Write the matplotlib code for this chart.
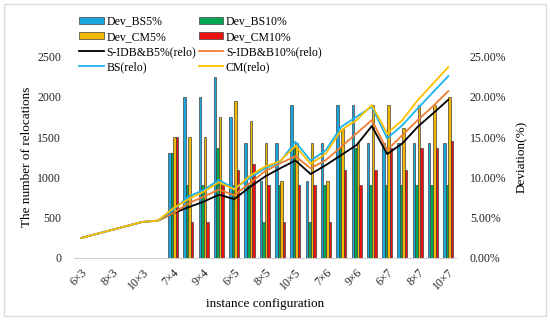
import matplotlib.pyplot as plt
import numpy as np
from matplotlib.patches import Rectangle

plt.rcParams["font.family"] = ["Liberation Serif", "DejaVu Serif"]

configs = ["6×3", "7×3", "8×3", "9×3", "10×3",
           "6×4", "7×4", "8×4", "9×4", "10×4",
           "6×5", "7×5", "8×5", "9×5", "10×5",
           "6×6", "7×6", "8×6", "9×6", "10×6",
           "6×7", "7×7", "8×7", "9×7", "10×7"]

# deviation bars (%), only from 7×4 onwards
bar_configs = configs[6:]
dev_bs5 = [13.0, 20.0, 20.0, 22.5, 17.5, 14.3, 9.5, 14.3, 19.0, 9.5,
           14.3, 19.0, 19.0, 14.3, 14.3, 14.3, 14.3, 14.3, 14.3]
dev_bs10 = [13.0, 9.1, 9.1, 13.6, 9.1, 9.1, 4.5, 9.1, 13.6, 4.5,
            9.1, 13.6, 13.6, 9.1, 9.1, 9.1, 9.1, 9.1, 9.1]
dev_cm5 = [15.0, 15.0, 15.0, 17.5, 19.5, 17.0, 14.3, 9.5, 14.3, 14.3,
           9.5, 16.0, 14.3, 19.0, 19.0, 16.1, 19.0, 19.0, 20.0]
dev_cm10 = [15.0, 4.5, 4.5, 9.1, 10.9, 11.7, 9.1, 4.5, 9.1, 9.1,
            4.5, 10.9, 9.1, 10.9, 13.6, 10.9, 13.6, 13.6, 14.5]

# relocations
sidb5 = [248, 298, 348, 398, 447, 463, 554, 629, 699, 785, 730, 877, 1009,
         1113, 1210, 1042, 1154, 1278, 1402, 1638, 1290, 1423, 1629, 1795, 1965]
sidb10 = [248, 298, 348, 398, 447, 463, 554, 678, 761, 850, 778, 926, 1075,
          1175, 1262, 1113, 1216, 1381, 1547, 1712, 1340, 1526, 1712, 1885, 2072]
bs_relo = [248, 298, 348, 398, 447, 463, 596, 761, 844, 968, 860, 989, 1113,
           1195, 1443, 1207, 1340, 1629, 1753, 1877, 1485, 1650, 1857, 2058, 2258]
cm_relo = [248, 298, 348, 398, 447, 463, 616, 728, 823, 940, 850, 1017, 1133,
           1203, 1390, 1166, 1299, 1588, 1712, 1898, 1547, 1712, 1960, 2165, 2370]

fig = plt.figure(figsize=(5.5, 3.2), dpi=100)
fig.patches.append(Rectangle((0.008, 0.012), 0.984, 0.976, transform=fig.transFigure,
                             fill=False, edgecolor="#dcdcdc", linewidth=1))
ax = fig.add_axes([0.134, 0.194, 0.695, 0.629])
ax2 = ax.twinx()
ax.set_zorder(ax2.get_zorder() + 1)
ax.patch.set_visible(False)

x = np.arange(len(configs))
xb = np.array([configs.index(c) for c in bar_configs])
w = 0.165
edge = dict(edgecolor="#404040", linewidth=0.5)
b1 = ax2.bar(xb - 1.5 * w, dev_bs5, w, color="#1AA7E0", label="Dev_BS5%", **edge)
b2 = ax2.bar(xb - 0.5 * w, dev_bs10, w, color="#00A651", label="Dev_BS10%", **edge)
b3 = ax2.bar(xb + 0.5 * w, dev_cm5, w, color="#F5B800", label="Dev_CM5%", **edge)
b4 = ax2.bar(xb + 1.5 * w, dev_cm10, w, color="#EE1111", label="Dev_CM10%", **edge)

l1, = ax.plot(x, sidb5, color="black", lw=1.3, label="S-IDB&B5%(relo)")
l2, = ax.plot(x, sidb10, color="#ED7D31", lw=1.3, label="S-IDB&B10%(relo)")
l3, = ax.plot(x, bs_relo, color="#19B3F0", lw=1.3, label="BS(relo)")
l4, = ax.plot(x, cm_relo, color="#FFC000", lw=1.3, label="CM(relo)")

ax.set_xlim(-0.5, len(configs) - 0.5)
ax.set_ylim(0, 2500)
ax2.set_ylim(0, 25)
ax.set_yticks(range(0, 2501, 500))
ax2.set_yticks(range(0, 26, 5))
ax2.set_yticklabels([f"{v:.2f}%" for v in range(0, 26, 5)])
ax.set_xticks(x[::2])
ax.set_xticklabels(configs[::2], rotation=45, ha="right", rotation_mode="anchor")

for a in (ax, ax2):
    for s in a.spines.values():
        s.set_visible(False)
    a.tick_params(length=0, labelsize=8.5, colors="#222222")
ax.spines["bottom"].set_visible(True)
ax.spines["bottom"].set_color("#d0d0d0")
ax.tick_params(axis="x", pad=6)
ax2.tick_params(axis="y", pad=10)
ax.tick_params(axis="y", pad=9)

ax.set_xlabel("instance configuration", fontsize=9.5, labelpad=4)
ax.set_ylabel("The number of relocations", fontsize=9.5, labelpad=3)
ax2.set_ylabel("Deviation(%)", fontsize=9.5, labelpad=7)

handles = [b1, b3, l1, l3, b2, b4, l2, l4]
fig.legend(handles=handles, labels=[h.get_label() for h in handles], ncol=2,
           loc="upper left", bbox_to_anchor=(0.125, 0.985), frameon=False,
           fontsize=8.5, handlelength=2.1, handleheight=0.6, labelspacing=0.28,
           columnspacing=0.2, handletextpad=0.2)

fig.savefig("out.png", dpi=100)
